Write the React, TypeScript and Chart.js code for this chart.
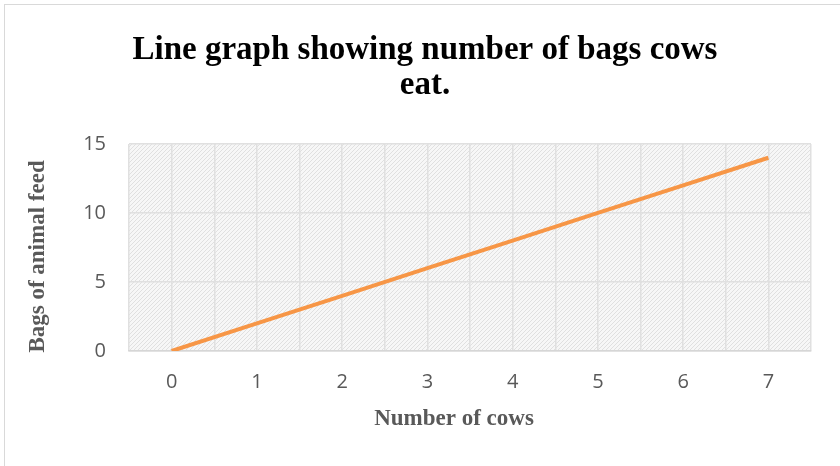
import React, { useEffect, useRef } from "react";
import { Chart, registerables } from "chart.js";

Chart.register(...registerables);

const cows = [0, 1, 2, 3, 4, 5, 6, 7];
const bags = [0, 2, 4, 6, 8, 10, 12, 14];
const titleLines = ["Line graph showing number of bags cows", "eat."];
const xTitle = "Number of cows";
const yTitle = "Bags of animal feed";
const yTicks = [0, 5, 10, 15];

function makePattern(ctx: CanvasRenderingContext2D) {
  const c = document.createElement("canvas");
  c.width = 4;
  c.height = 4;
  const p = c.getContext("2d")!;
  p.fillStyle = "#f7f7f7";
  p.fillRect(0, 0, 4, 4);
  p.fillStyle = "#e0e0e0";
  for (let i = 0; i < 4; i++) {
    p.fillRect(i, 3 - i, 1, 1);
  }
  return ctx.createPattern(c, "repeat");
}

const bgPlugin = {
  id: "bgPattern",
  beforeDraw(chart: any) {
    const { ctx, chartArea } = chart;
    const pat = makePattern(ctx);
    if (!pat) return;
    ctx.save();
    ctx.fillStyle = pat;
    ctx.fillRect(chartArea.left, chartArea.top, chartArea.right - chartArea.left, chartArea.bottom - chartArea.top);
    ctx.restore();
  },
};

const axisTitlePlugin = {
  id: "axisTitlesCustom",
  afterDraw(chart: any) {
    const { ctx, chartArea } = chart;
    ctx.save();
    ctx.font = "bold 23px 'Liberation Serif', 'Times New Roman', serif";
    ctx.fillStyle = "#595959";
    ctx.textAlign = "center";
    ctx.textBaseline = "middle";
    ctx.fillText(xTitle, (chartArea.left + chartArea.right) / 2 - 16, chartArea.bottom + 68);
    ctx.translate(34, (chartArea.top + chartArea.bottom) / 2 + 9);
    ctx.rotate(-Math.PI / 2);
    ctx.fillText(yTitle, 0, 0);
    ctx.restore();
  },
};

export default function App() {
  const ref = useRef<HTMLCanvasElement>(null);
  useEffect(() => {
    if (!ref.current) return;
    const chart = new Chart(ref.current, {
      type: "line",
      data: {
        datasets: [
          {
            data: cows.map((c, i) => ({ x: c, y: bags[i] })),
            borderColor: "#F79646",
            borderWidth: 4,
            pointRadius: 0,
            tension: 0,
            fill: false,
          },
        ],
      },
      options: {
        animation: false,
        responsive: false,
        maintainAspectRatio: false,
        layout: { padding: { left: 0, right: 0, top: 0, bottom: 26 } },
        plugins: {
          legend: { display: false },
          tooltip: { enabled: false },
          title: {
            display: true,
            text: titleLines,
            color: "#000000",
            font: { family: "'Liberation Serif', 'Times New Roman', serif", size: 33, weight: "bold", lineHeight: 1.09 },
            padding: { top: 28, bottom: 40 },
          },
        },
        scales: {
          x: {
            type: "linear",
            min: -0.5,
            max: 7.5,
            afterFit: (s: any) => {
              s.height = 89;
            },
            ticks: {
              stepSize: 0.5,
              autoSkip: false,
              maxRotation: 0,
              padding: 19,
              color: "#595959",
              font: { family: "'Open Sans', sans-serif", size: 20 },
              callback: (v: any) => {
                const n = Number(v);
                return cows.includes(n) ? String(n) : "";
              },
            },
            grid: { color: "#e0e0e0", lineWidth: 1.5, drawTicks: false },
            border: { display: true, color: "#d6d6d6", width: 1.5 },
          },
          y: {
            type: "linear",
            min: 0,
            max: 15,
            afterFit: (s: any) => {
              s.width = 125;
            },
            afterBuildTicks: (s: any) => {
              s.ticks = yTicks.map((v) => ({ value: v }));
            },
            ticks: {
              padding: 23,
              color: "#595959",
              font: { family: "'Open Sans', sans-serif", size: 20 },
            },
            grid: { color: "#e0e0e0", lineWidth: 1.5, drawTicks: false },
            border: { display: false },
          },
          y2: {
            type: "linear",
            position: "right",
            min: 0,
            max: 1,
            afterFit: (s: any) => {
              s.width = 35;
            },
            ticks: { display: false },
            grid: { display: false, drawTicks: false },
            border: { display: false },
          },
        },
      } as any,
      plugins: [bgPlugin, axisTitlePlugin],
    });
    return () => chart.destroy();
  }, []);

  return (
    <div style={{ position: "fixed", left: 0, top: 0, width: 840, height: 466, overflow: "hidden", background: "#fff" }}>
      <div
        style={{
          position: "absolute",
          left: 4,
          top: 4,
          width: 880,
          height: 500,
          border: "1px solid #d9d9d9",
          boxSizing: "border-box",
        }}
      />
      <canvas ref={ref} width={842} height={462} style={{ position: "absolute", left: 4, top: 4, width: 842, height: 462 }} />
    </div>
  );
}
